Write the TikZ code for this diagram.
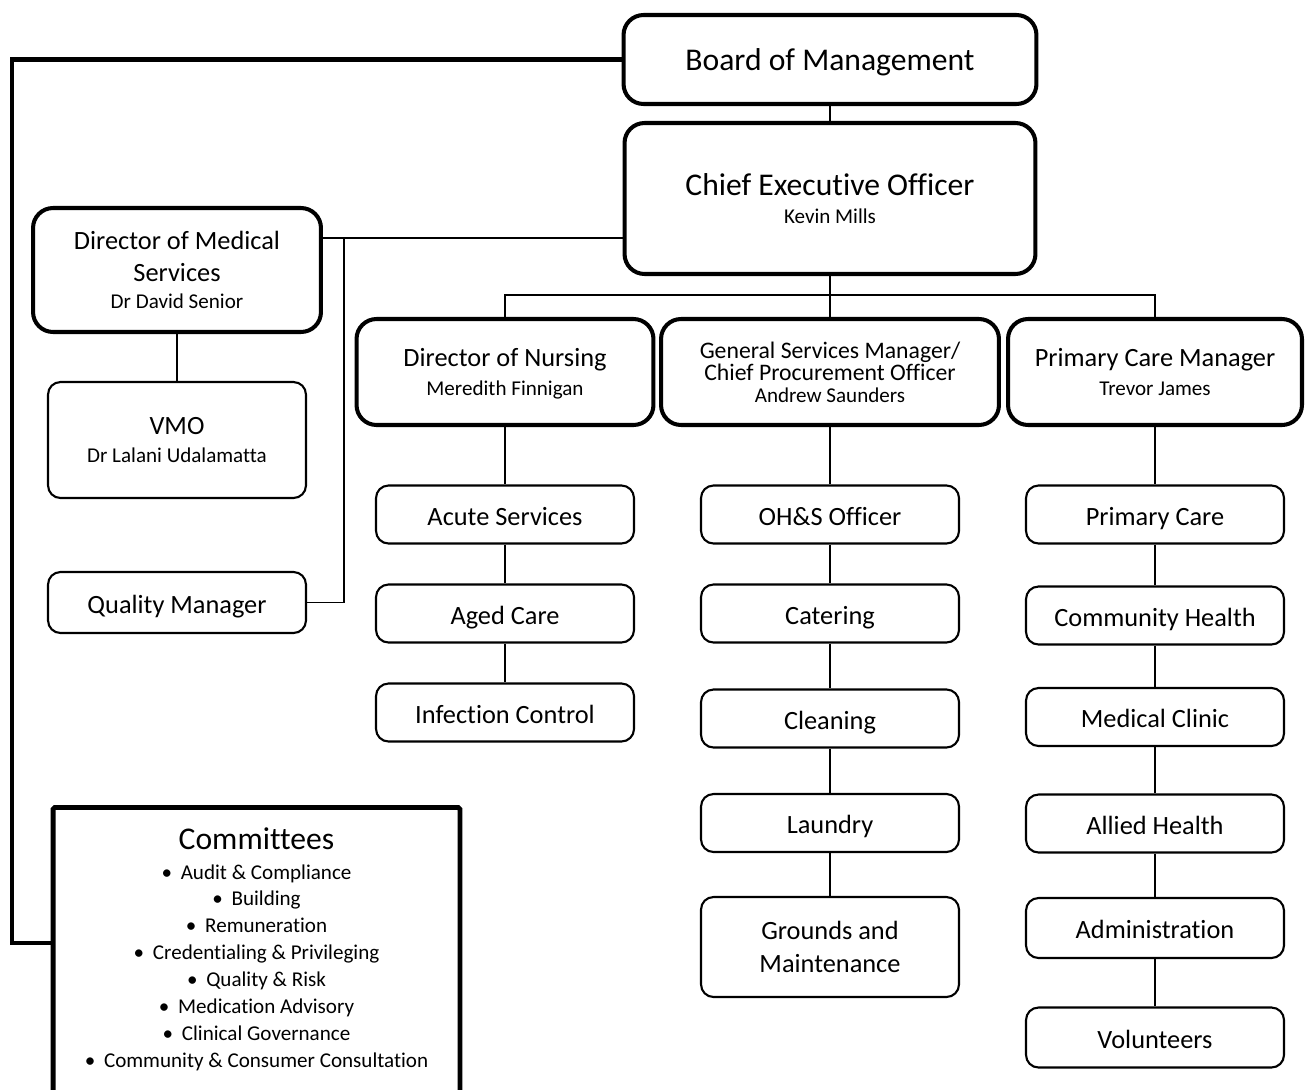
\documentclass[tikz,border=0pt]{standalone}
\usepackage{fontspec}
\setmainfont{Carlito}[Ligatures=CommonOff]
\newcommand{\staffname}[1]{{\fontsize{12}{14}\selectfont #1}}
\tikzset{
    headbox/.style={rectangle, draw, line width=2.3pt, rounded corners=0.4cm, align=center, inner sep=2pt},
    unitbox/.style={rectangle, draw, line width=1.2pt, rounded corners=0.25cm, minimum width=5.16cm, minimum height=1.16cm, align=center, inner sep=2pt, font=\fontsize{15}{18.7}\selectfont},
    oneline/.style={text height=14pt, text depth=2pt},
    link/.style={line width=0.7pt},
    boardlink/.style={line width=2.8pt}
}

\begin{document}
\begin{tikzpicture}[x=0.02cm, y=-0.02cm]
\useasboundingbox (0,0) rectangle (1305,1089);

% Board and CEO
\node[headbox, minimum width=8.26cm, minimum height=1.78cm, text height=16pt, text depth=4pt, font=\fontsize{18}{18}\selectfont] (board) at (830,59.5) {Board of Management};
\node[headbox, minimum width=8.22cm, minimum height=3.02cm, font=\fontsize{18}{16}\selectfont] (ceo) at (830,198.5) {Chief Executive Officer\\\staffname{Kevin Mills}};

% Medical services side
\node[headbox, minimum width=5.76cm, minimum height=2.48cm, font=\fontsize{15}{18}\selectfont] (dms) at (177,270) {Director of Medical\\Services\\[-2.7pt]\staffname{Dr David Senior}};
\node[unitbox, minimum height=2.32cm, font=\fontsize{15}{16}\selectfont] (vmo) at (177,440) {VMO\\\staffname{Dr Lalani Udalamatta}};
\node[unitbox, oneline, minimum height=1.22cm] (qm) at (177,602.5) {Quality Manager};

% Managers
\node[headbox, minimum width=5.94cm, minimum height=2.12cm, text depth=0pt, font=\fontsize{15}{16.4}\selectfont] (nurse) at (505,372) {Director of Nursing\\\staffname{Meredith Finnigan}};
\node[headbox, minimum width=6.76cm, minimum height=2.12cm, font=\fontsize{13.5}{12.5}\selectfont] (gsm) at (830,372) {General Services Manager/\\Chief Procurement Officer\\\staffname{Andrew Saunders}};
\node[headbox, minimum width=5.88cm, minimum height=2.12cm, text depth=0pt, font=\fontsize{15}{16.4}\selectfont] (pcm) at (1155,372) {Primary Care Manager\\\staffname{Trevor James}};

% Nursing units
\node[unitbox, oneline] (acute) at (505,514.5) {Acute Services};
\node[unitbox, oneline] (aged) at (505,613.5) {Aged Care};
\node[unitbox, oneline] (infect) at (505,712.5) {Infection Control};

% General services units
\node[unitbox, oneline] (ohs) at (830,514.5) {OH\&S Officer};
\node[unitbox, oneline] (cater) at (830,613.5) {Catering};
\node[unitbox, oneline] (clean) at (830,718.5) {Cleaning};
\node[unitbox, oneline] (laundry) at (830,823) {Laundry};
\node[unitbox, minimum height=2cm] (grounds) at (830,947) {Grounds and\\Maintenance};

% Primary care units
\node[unitbox, oneline] (primary) at (1155,514.5) {Primary Care};
\node[unitbox, oneline] (commhealth) at (1155,615.5) {Community Health};
\node[unitbox, oneline] (clinic) at (1155,717) {Medical Clinic};
\node[unitbox, oneline] (allied) at (1155,823.5) {Allied Health};
\node[unitbox, oneline, minimum height=1.2cm] (admin) at (1155,928) {Administration};
\node[unitbox, oneline, minimum height=1.2cm] (volunteer) at (1155,1037.5) {Volunteers};

% Committees box
\node[rectangle, draw, line width=2.8pt, rounded corners=1pt, anchor=north, minimum width=8.14cm, align=center, inner ysep=0.4cm, text depth=1cm, font=\fontsize{12}{15.3}\selectfont] (comm) at (256.5,805) {
    {\fontsize{18}{18}\selectfont Committees}\\[1.7pt]
    \textbullet\hspace{5pt}Audit \& Compliance\\
    \textbullet\hspace{5pt}Building\\
    \textbullet\hspace{5pt}Remuneration\\
    \textbullet\hspace{5pt}Credentialing \& Privileging\\
    \textbullet\hspace{5pt}Quality \& Risk\\
    \textbullet\hspace{5pt}Medication Advisory\\
    \textbullet\hspace{5pt}Clinical Governance\\
    \textbullet\hspace{5pt}Community \& Consumer Consultation
};

% Connectors
\coordinate (tap) at (12,943);
\coordinate (medbus) at (344,238);
\coordinate (bus) at (830,295);
\draw[boardlink] (board.west) -| (tap) -- (tap -| comm.west);
\draw[link] (board) -- (ceo);
\draw[link] (medbus -| dms.east) -- (medbus -| ceo.west);
\draw[link] (medbus) |- (qm.east);
\draw[link] (dms) -- (vmo);
\draw[link] (ceo.south) -- (bus) -- (gsm.north);
\draw[link] (nurse.north) |- (bus) -| (pcm.north);
\draw[link] (nurse) -- (acute) -- (aged) -- (infect);
\draw[link] (gsm) -- (ohs) -- (cater) -- (clean) -- (laundry) -- (grounds);
\draw[link] (pcm) -- (primary) -- (commhealth) -- (clinic) -- (allied) -- (admin) -- (volunteer);
\end{tikzpicture}
\end{document}
